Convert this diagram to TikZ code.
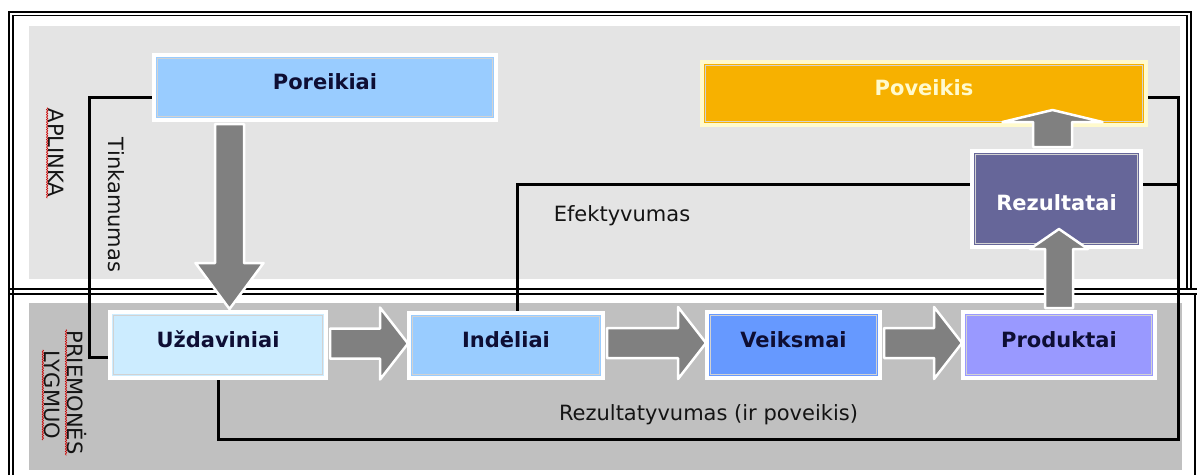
\documentclass[tikz,border=0pt]{standalone}
\usepackage{fontspec}
\setmainfont{DejaVu Sans}
\usetikzlibrary{calc,decorations.pathmorphing}
\pgfdeclarelayer{bglayer}
\pgfdeclarelayer{midlayer}
\pgfsetlayers{bglayer,midlayer,main}
\definecolor{panelA}{RGB}{228,228,228}
\definecolor{panelB}{RGB}{192,192,192}
\definecolor{navy}{RGB}{14,14,52}
\definecolor{cPoreikiai}{RGB}{153,204,255}
\definecolor{cUzd}{RGB}{204,236,255}
\definecolor{cVeiks}{RGB}{102,153,255}
\definecolor{cProd}{RGB}{153,153,255}
\definecolor{cRez}{RGB}{102,102,153}
\definecolor{cPov}{RGB}{247,177,0}
\definecolor{cPovBorder}{RGB}{255,250,205}
\definecolor{arrowgray}{RGB}{128,128,128}
\definecolor{labeltext}{RGB}{20,20,20}
\tikzset{
  box/.style={draw=white, line width=4pt, inner sep=0pt, text=navy,
    font=\fontsize{21}{25}\selectfont\bfseries, text height=16pt, text depth=12pt,
    path picture={\draw[line width=0.7pt, white!65!gray]
      ([xshift=3.3pt,yshift=3.3pt]path picture bounding box.south west) rectangle
      ([xshift=-3.3pt,yshift=-3.3pt]path picture bounding box.north east);}},
  lbl/.style={inner sep=1pt, text=labeltext, font=\fontsize{21}{25}\selectfont},
  spell/.style={draw=red!80!black, line width=0.6pt, decorate,
    decoration={snake, amplitude=0.7pt, segment length=2.5pt}},
  conn/.style={line width=3pt, black},
  frameline/.style={line width=1.9pt, black},
  blockarrow/.style={fill=arrowgray, draw=white, line width=2.5pt, line join=round},
}
\newcommand{\hblockarrow}[2]{%
  \path[blockarrow] let \p1=(#1.east), \p2=(#2.west) in
    (\x1+2pt,\y2+17pt) -- (\x2-27pt,\y2+17pt) -- (\x2-27pt,\y2+38pt) --
    (\x2+1pt,\y2+2pt) -- (\x2-27pt,\y2-34pt) -- (\x2-27pt,\y2-13pt) --
    (\x1+2pt,\y2-13pt) -- cycle;}
\begin{document}
\begin{tikzpicture}[x=1pt,y=-1pt]
\useasboundingbox (0,0) rectangle (1197,475);
\begin{pgfonlayer}{bglayer}
  \fill[white] (0,0) rectangle (1197,475);
  \fill[panelA] (29,26) rectangle (1180,279);
  \fill[panelB] (29,303) rectangle (1182,470);
  \draw[frameline] (9,475) -- (9,12) -- (1191,12) -- (1191,289);
  \draw[frameline] (13,475) -- (13,15.5) -- (1187,15.5) -- (1187,289);
  \draw[frameline] (9,289) -- (1197,289);
  \draw[frameline] (9,294) -- (1197,294);
  \draw[frameline] (1195,294) -- (1195,475);
\end{pgfonlayer}

% boxes
\node[box, fill=cPoreikiai, minimum width=342pt, minimum height=65pt] (P) at (325,87.5) {Poreikiai};
\node[box, fill=cUzd, minimum width=216pt, minimum height=66pt] (U) at (218,345) {Uždaviniai};
\node[box, fill=cPoreikiai, minimum width=194pt, minimum height=65pt] (I) at (506,345.5) {Indėliai};
\node[box, fill=cVeiks, minimum width=173pt, minimum height=66pt] (V) at (793.5,345) {Veiksmai};
\node[box, fill=cProd, minimum width=192pt, minimum height=66pt] (Pr) at (1059,345) {Produktai};
\node[box, fill=cRez, text=white, text height=26pt, text depth=2.7pt,
      minimum width=169pt, minimum height=96pt] (R) at (1056.5,199) {Rezultatai};
\node[box, fill=cPov, draw=cPovBorder, text=cPovBorder, minimum width=444pt, minimum height=63pt] (Pv) at (924,93.5) {Poveikis};

\coordinate (rt) at ([xshift=30pt,yshift=-3.5pt]Pv.east);

% connectors (behind boxes)
\begin{pgfonlayer}{midlayer}
  \draw[conn] ([yshift=-10pt]P.west) -- ++(-63,0) |- ([yshift=-12pt]U.west);
  \draw[conn] ([xshift=11pt]I.north) |- ([yshift=15pt]R.west) -| (rt);
  \draw[conn] (U.south) -- ++(0,59) -| (rt) -- ([yshift=-3.5pt]Pv.east);
\end{pgfonlayer}

% block arrows
\path[blockarrow] let \p1=(P.south), \p2=(U.north) in
  (\x2-3pt,\y1-2pt) -- (\x2-3pt,\y2+47pt) -- (\x2-22.5pt,\y2+47pt) --
  (\x2+11.5pt,\y2+1pt) -- (\x2+45.5pt,\y2+47pt) -- (\x2+26pt,\y2+47pt) --
  (\x2+26pt,\y1-2pt) -- cycle;
\hblockarrow{U}{I}
\hblockarrow{I}{V}
\hblockarrow{V}{Pr}
\path[blockarrow] let \p1=(Pr.north), \p2=(R.south) in
  (\x1-14pt,\y1+2pt) -- (\x1-14pt,\y2) -- (\x1-29pt,\y2) -- (\x1,\y2+20pt) --
  (\x1+29pt,\y2) -- (\x1+14pt,\y2) -- (\x1+14pt,\y1+2pt) -- cycle;
\path[blockarrow] let \p1=(R.north), \p2=(Pv.south) in
  (\x1-23.5pt,\y1+2pt) -- (\x1-23.5pt,\y2+5pt) -- (\x1-54pt,\y2+5pt) --
  (\x1-4pt,\y2+17pt) -- (\x1+46pt,\y2+5pt) -- (\x1+15.5pt,\y2+5pt) --
  (\x1+15.5pt,\y1+2pt) -- cycle;

% labels
\node[lbl, rotate=-90] (aplinka) at (56,153) {APLINKA};
\node[lbl, rotate=-90] (pri) at (77,392.5) {PRIEMONĖS};
\node[lbl, rotate=-90] (lyg) at (52,395) {LYGMUO};
\node[lbl, rotate=-90] (tink) at (116.5,205) {Tinkamumas};
\node[lbl] (efekt) at (622,216) {Efektyvumas};
\node[lbl] (rezult) at (708.5,415) {Rezultatyvumas (ir poveikis)};

\draw[spell] (aplinka.south west) -- (aplinka.south east);
\draw[spell] (pri.south west) -- (pri.south east);
\draw[spell] (lyg.south west) -- (lyg.south east);
\end{tikzpicture}
\end{document}
